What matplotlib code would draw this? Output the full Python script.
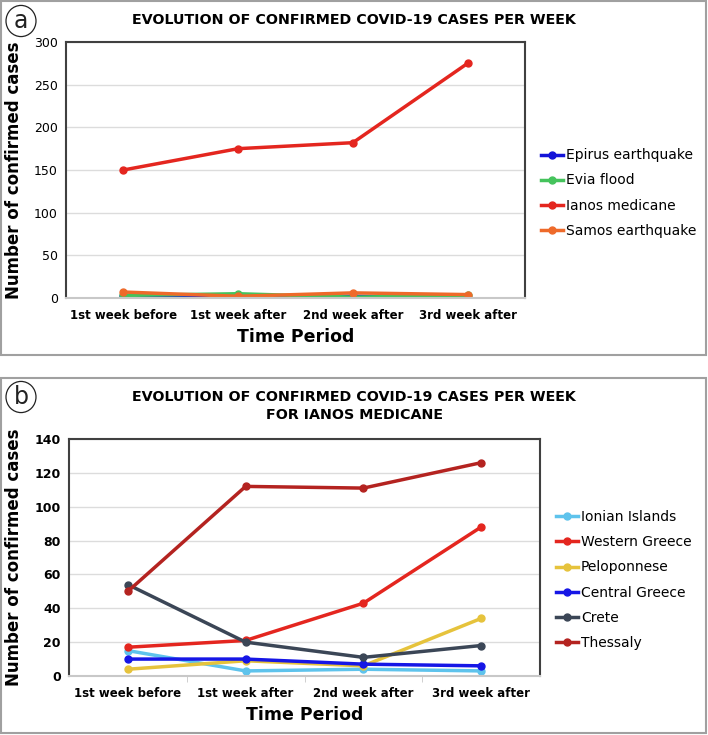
import matplotlib
matplotlib.use("Agg")
import matplotlib.pyplot as plt
from matplotlib.patches import Rectangle, Circle

periods = ["1st week before", "1st week after", "2nd week after", "3rd week after"]

# panel a: cases per event
events = ["Epirus earthquake", "Evia flood", "Ianos medicane", "Samos earthquake"]
epirus = [2, 1, 2, 0]
evia = [3, 5, 1, 3]
ianos = [150, 175, 182, 275]
samos = [7, 2, 6, 4]
event_colors = ["#1414d8", "#45c35c", "#e4261f", "#ee6a2a"]

# panel b: Ianos medicane by region
regions = ["Ionian Islands", "Western Greece", "Peloponnese",
           "Central Greece", "Crete", "Thessaly"]
ionian = [15, 3, 4, 3]
western = [17, 21, 43, 88]
peloponnese = [4, 9, 6, 34]
central = [10, 10, 7, 6]
crete = [54, 20, 11, 18]
thessaly = [50, 112, 111, 126]
region_colors = ["#5ec3ec", "#e4261f", "#e6c33c", "#1616e6", "#3b4656", "#b42320"]

W, H = 708, 735
fig = plt.figure(figsize=(W / 100, H / 100), dpi=100)


def px(x, y):
    return x / W, 1 - y / H


def panel_frame(y0, y1, letter, cy):
    x0, ytop = px(1, y0)
    x1, ybot = px(706, y1)
    fig.patches.append(Rectangle((x0, ybot), x1 - x0, ytop - ybot,
                                 transform=fig.transFigure, fill=False,
                                 edgecolor="#a0a0a0", linewidth=1.5))
    cx, cyf = px(21, cy)
    fig.patches.append(Circle((cx, cyf), 15 / W, transform=fig.transFigure,
                              fill=False, edgecolor="#222222", linewidth=0.9))
    fig.text(cx, cyf, letter, ha="center", va="center", fontsize=17,
             color="#222222")


def style_axes(ax, ymax, step, bold_y, minor):
    ax.set_xlim(-0.5, 3.5)
    ax.set_ylim(0, ymax)
    ax.set_yticks(range(0, ymax + 1, step))
    ax.set_xticks(range(len(periods)))
    ax.set_xticklabels(periods, fontsize=8.5, fontweight="bold")
    if minor:
        ax.set_xticks([0.5, 1.5, 2.5], minor=True)
        ax.tick_params(axis="x", which="minor", length=4, color="#c8c8c8")
    ax.tick_params(axis="x", which="major", length=0, pad=8)
    ax.tick_params(axis="y", length=0, pad=6, labelsize=9)
    for lab in ax.get_yticklabels():
        lab.set_fontweight("bold" if bold_y else "normal")
    ax.grid(axis="y", color="#dcdcdc", linewidth=1)
    ax.set_axisbelow(True)
    for s in ["top", "right", "left"]:
        ax.spines[s].set_color("#404040")
        ax.spines[s].set_linewidth(1.5)
    ax.spines["bottom"].set_color("#c8c8c8")
    ax.spines["bottom"].set_linewidth(1.5)
    ax.set_xlabel("Time Period", fontsize=12.5, fontweight="bold", labelpad=4)
    ax.set_ylabel("Number of confirmed cases", fontsize=12, fontweight="bold",
                  labelpad=8)


def add_legend(ax, x_anchor, y_anchor):
    ax.legend(loc="center left", bbox_to_anchor=(x_anchor, y_anchor),
              frameon=False, fontsize=10, handlelength=1.6, handletextpad=0.2,
              labelspacing=0.8, borderaxespad=0)


# ---- panel a
panel_frame(1, 355, "a", 21)
ax1 = fig.add_axes([66 / W, 1 - 298 / H, (525 - 66) / W, (298 - 42) / H])
for name, vals, c in zip(events, [epirus, evia, ianos, samos], event_colors):
    ax1.plot(range(len(periods)), vals, color=c, linewidth=2.5, marker="o",
             markersize=5, label=name)
style_axes(ax1, 300, 50, False, False)
fig.text(0.5, 1 - 20 / H, "EVOLUTION OF CONFIRMED COVID-19 CASES PER WEEK",
         ha="center", va="center", fontsize=10.3, fontweight="bold")
add_legend(ax1, 1.022, 0.41)

# ---- panel b
panel_frame(378, 733, "b", 397)
ax2 = fig.add_axes([69 / W, 1 - 676 / H, (540 - 69) / W, (676 - 439) / H])
series_b = [ionian, western, peloponnese, central, crete, thessaly]
for name, vals, c in zip(regions, series_b, region_colors):
    ax2.plot(range(len(periods)), vals, color=c, linewidth=2.5, marker="o",
             markersize=5, label=name)
style_axes(ax2, 140, 20, True, True)
fig.text(0.5, 1 - 406 / H,
         "EVOLUTION OF CONFIRMED COVID-19 CASES PER WEEK\nFOR IANOS MEDICANE",
         ha="center", va="center", fontsize=10.3, fontweight="bold",
         linespacing=1.3)
add_legend(ax2, 1.022, 0.405)

fig.savefig("out.png", dpi=100)
